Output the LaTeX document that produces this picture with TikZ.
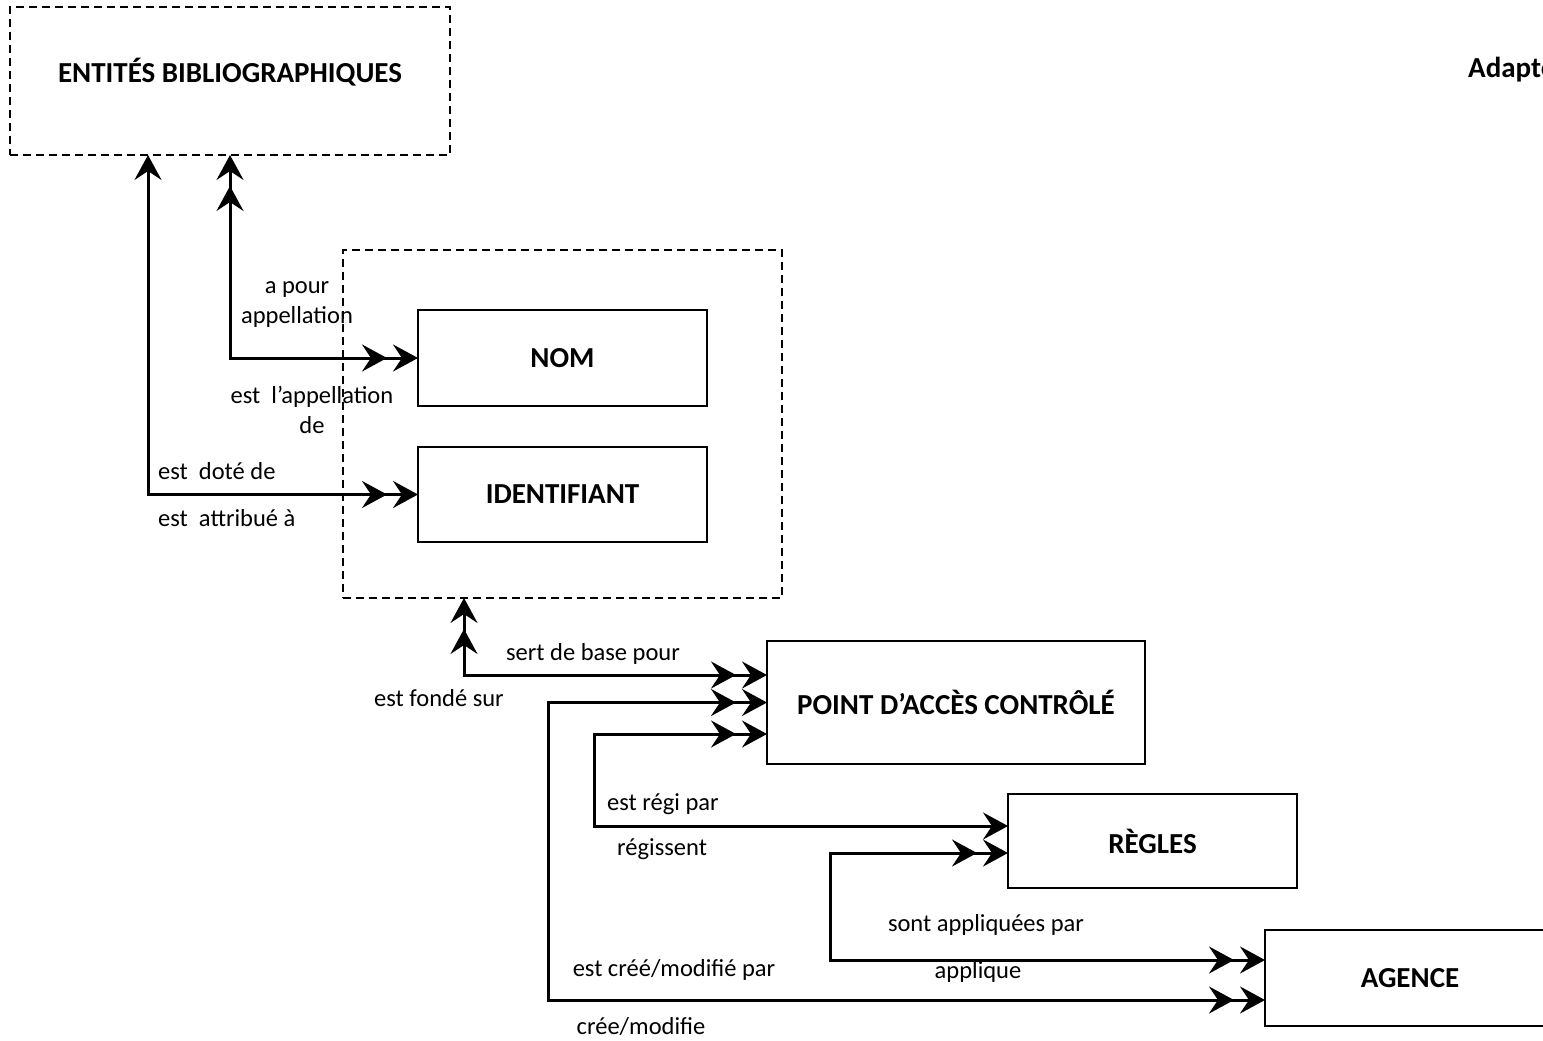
\documentclass[tikz,border=0pt]{standalone}
\usepackage{fontspec}
\setmainfont{Carlito}
\usetikzlibrary{arrows.meta}
\tikzset{
  box/.style={draw, line width=2.5pt, inner sep=0pt, outer sep=0pt,
    font=\bfseries\fontsize{29}{35}\selectfont},
  dbox/.style={draw, line width=2.5pt, dash pattern=on 8pt off 5pt, inner sep=0pt, outer sep=0pt},
  title/.style={inner sep=0pt, font=\bfseries\fontsize{29}{35}\selectfont},
  lbl/.style={inner sep=0pt, align=center, font=\fontsize{24.5}{30}\selectfont},
  conn/.style={line width=3pt, line join=miter, shorten >=-6pt, shorten <=-6pt},
  >={Stealth[length=25pt,width=27pt,inset=9pt,sep=6pt]}
}
\begin{document}
\begin{tikzpicture}[x=1pt,y=-1pt]
\useasboundingbox (0,0) rectangle (1543,1041);
\clip (0,0) rectangle (1543,1041);
% boxes
\node[dbox, minimum width=440pt, minimum height=148pt] (ent) at (230,81) {};
\node[title] (entT) at (230,72) {ENTITÉS BIBLIOGRAPHIQUES};
\node[title, anchor=west] (adapt) at (1468,70) {Adapté de};
\node[dbox, minimum width=439pt, minimum height=348pt] (grp) at (562.5,424) {};
\node[box, minimum width=289pt, minimum height=96pt] (nom) at (562.5,358) {NOM};
\node[box, minimum width=289pt, minimum height=95pt] (id) at (562.5,494.5) {IDENTIFIANT};
\node[box, minimum width=378pt, minimum height=123pt] (pt) at (956,702.5) {POINT D’ACCÈS CONTRÔLÉ};
\node[box, minimum width=289pt, minimum height=94pt] (reg) at (1152.5,841) {RÈGLES};
\node[box, minimum width=290pt, minimum height=96pt] (ag) at (1410,978) {AGENCE};
% bend points
\coordinate (c2) at (548,1000);
\coordinate (c3) at (594,826);
\coordinate (c4) at (830,960);
% connectors
\draw[conn, <<->>] (ent.south) |- (nom.west);
\draw[conn, <->>] ([xshift=-82pt]ent.south) |- (id.west);
\draw[conn, <<->>] ([xshift=-98.5pt]grp.south) |- ([yshift=27.5pt]pt.west);
\draw[conn, <<->>] (pt.west) -| (c2) -- ([yshift=-22pt]ag.west);
\draw[conn, <<->] ([yshift=-31.5pt]pt.west) -| (c3) -- ([yshift=15pt]reg.west);
\draw[conn, <<->>] ([yshift=-12pt]reg.west) -| (c4) -- ([yshift=18pt]ag.west);
% labels
\node[lbl] (l1) at (297,305) {a pour\\appellation};
\node[lbl] (l2) at (312,410) {est\ \ l’appellation\\de};
\node[lbl, anchor=west] (l3) at (158,471) {est\ \ doté de};
\node[lbl, anchor=west] (l4) at (158,518) {est\ \ attribué à};
\node[lbl] (l5) at (593,654) {sert de base pour};
\node[lbl] (l6) at (439,698) {est fondé sur};
\node[lbl, anchor=west] (l7) at (607,804) {est régi par};
\node[lbl, anchor=west] (l8) at (617,849) {régissent};
\node[lbl] (l9) at (986,925) {sont appliquées par};
\node[lbl] (l10) at (978,972) {applique};
\node[lbl] (l11) at (674,970) {est créé/modifié par};
\node[lbl] (l12) at (641,1027) {crée/modifie};
\end{tikzpicture}
\end{document}
